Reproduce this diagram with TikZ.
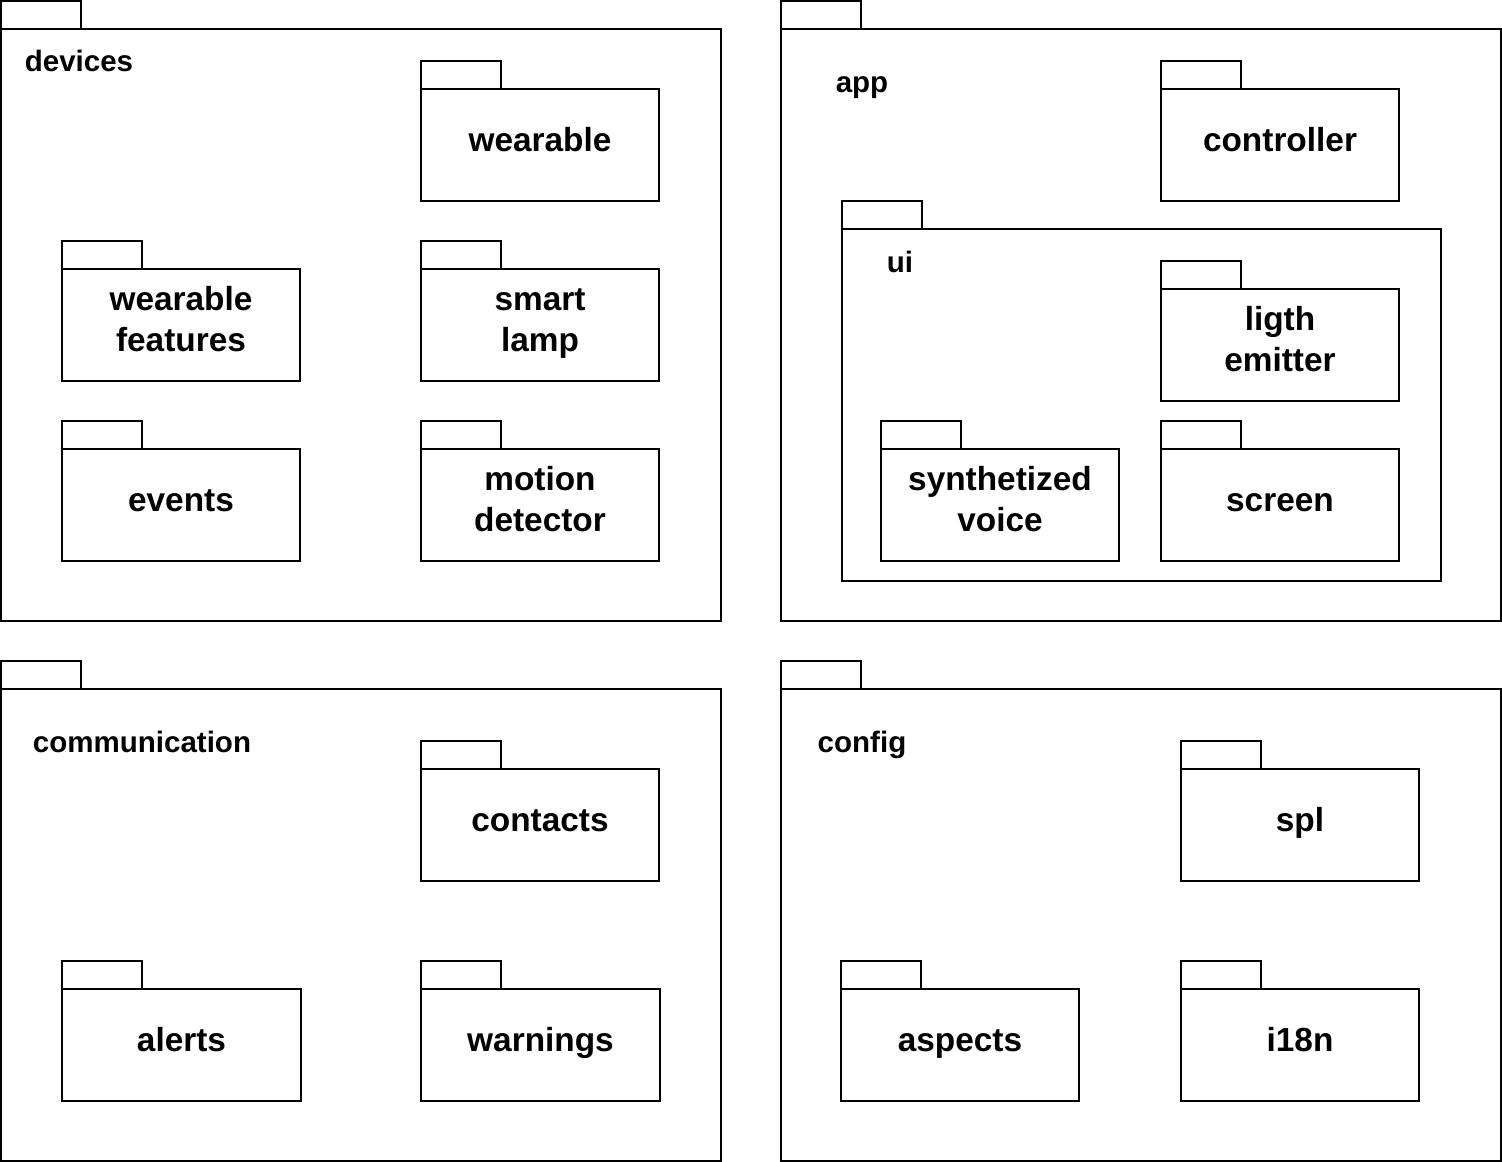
\documentclass[tikz,border=0pt]{standalone}
\usepackage{fontspec}
\setmainfont{Liberation Sans}

\begin{document}
\begin{tikzpicture}[x=0.02cm,y=-0.02cm,line width=0.85pt,
    pkglabel/.style={font=\bfseries\fontsize{19}{22.8}\selectfont,align=center,yshift=0.04cm},
    grouplabel/.style={font=\bfseries\fontsize{16.8}{20}\selectfont,anchor=base}]
    \useasboundingbox (0,0) rectangle (1502,1162);

    % devices
    \draw (1,1) rectangle (81,29) (1,29) rectangle (721,621);
    \node[grouplabel] (devices) at (79,72) {devices};
    \draw (421,61) rectangle (501,89) (421,89) rectangle node[pkglabel] (wearable) {\strut wearable} (659,201);
    \draw (62,241) rectangle (142,269) (62,269) rectangle node[pkglabel] (features) {\strut wearable\\\strut features} (300,381);
    \draw (421,241) rectangle (501,269) (421,269) rectangle node[pkglabel] (lamp) {\strut smart\\\strut lamp} (659,381);
    \draw (62,421) rectangle (142,449) (62,449) rectangle node[pkglabel] (events) {\strut events} (300,561);
    \draw (421,421) rectangle (501,449) (421,449) rectangle node[pkglabel] (motion) {\strut motion\\\strut detector} (659,561);

    % app
    \draw (781,1) rectangle (861,29) (781,29) rectangle (1501,621);
    \node[grouplabel] (app) at (862,93) {app};
    \draw (1161,61) rectangle (1241,89) (1161,89) rectangle node[pkglabel] (controller) {\strut controller} (1399,201);
    \draw (842,201) rectangle (922,229) (842,229) rectangle (1441,581);
    \node[grouplabel] (ui) at (900,273) {ui};
    \draw (1161,261) rectangle (1241,289) (1161,289) rectangle node[pkglabel] (emitter) {\strut ligth\\\strut emitter} (1399,401);
    \draw (881,421) rectangle (961,449) (881,449) rectangle node[pkglabel] (voice) {\strut synthetized\\\strut voice} (1119,561);
    \draw (1161,421) rectangle (1241,449) (1161,449) rectangle node[pkglabel] (screen) {\strut screen} (1399,561);

    % communication
    \draw (1,661) rectangle (81,689) (1,689) rectangle (721,1161);
    \node[grouplabel] (communication) at (142,752) {communication};
    \draw (421,741) rectangle (501,769) (421,769) rectangle node[pkglabel] (contacts) {\strut contacts} (659,881);
    \draw (62,961) rectangle (142,989) (62,989) rectangle node[pkglabel] (alerts) {\strut alerts} (301,1101);
    \draw (421,961) rectangle (501,989) (421,989) rectangle node[pkglabel] (warnings) {\strut warnings} (660,1101);

    % config
    \draw (781,661) rectangle (861,689) (781,689) rectangle (1501,1161);
    \node[grouplabel] (config) at (862,752) {config};
    \draw (1181,741) rectangle (1261,769) (1181,769) rectangle node[pkglabel] (spl) {\strut spl} (1419,881);
    \draw (841,961) rectangle (921,989) (841,989) rectangle node[pkglabel] (aspects) {\strut aspects} (1079,1101);
    \draw (1181,961) rectangle (1261,989) (1181,989) rectangle node[pkglabel] (i18n) {\strut i18n} (1419,1101);

\end{tikzpicture}
\end{document}
